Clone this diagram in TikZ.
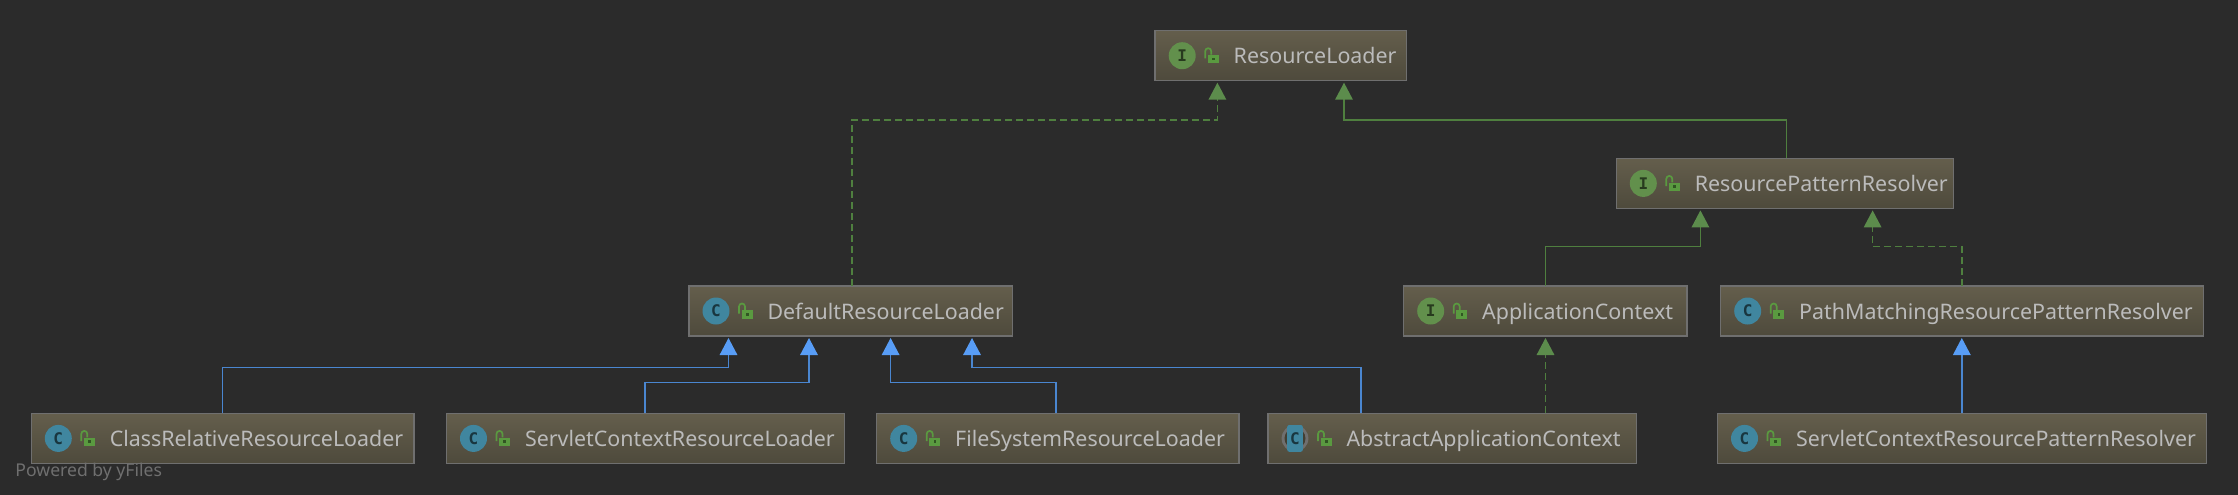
\documentclass[tikz,border=0pt]{standalone}
\usepackage{fontspec}
\setmainfont{Noto Sans}
\newfontfamily\iconfont{DejaVu Sans Mono Bold}
\usetikzlibrary{arrows.meta}
\definecolor{bgc}{HTML}{2B2B2B}
\definecolor{boxtop}{HTML}{645E4C}
\definecolor{boxbot}{HTML}{4E4A3C}
\definecolor{boxline}{HTML}{6F6F6F}
\definecolor{txt}{HTML}{BBBBBB}
\definecolor{grnline}{HTML}{4F7F3F}
\definecolor{grnfill}{HTML}{5C8C4C}
\definecolor{bluline}{HTML}{4A86D0}
\definecolor{blufill}{HTML}{589DF6}
\definecolor{tealc}{HTML}{40869F}
\definecolor{greenc}{HTML}{62904C}
\definecolor{lockc}{HTML}{5A9A40}
\tikzset{
  umlbox/.style={draw=boxline,line width=1.5pt,top color=boxtop,bottom color=boxbot,
    minimum height=50pt,inner sep=0pt,outer sep=0pt,anchor=north west},
  umltext/.style={text=txt,font=\fontsize{21.4}{21.4}\selectfont,inner sep=0pt,outer sep=0pt,anchor=base west},
  iconbase/.style={circle,minimum size=27pt,inner sep=0pt,outer sep=0pt,
    font=\iconfont\fontsize{16}{16}\selectfont},
  iconC/.style={iconbase,fill=tealc,text=black!60!tealc},
  iconI/.style={iconbase,fill=greenc,text=black!60!greenc},
  inhg/.style={draw=grnline,line width=1.5pt,-{Triangle[length=17pt,width=17.5pt,color=grnfill,fill=grnfill]}},
  impg/.style={inhg,dashed,dash pattern=on 7pt off 4pt},
  inhb/.style={draw=bluline,line width=1.5pt,-{Triangle[length=17pt,width=17.5pt,color=blufill,fill=blufill]}},
}
% name, x, y, width, icon style, letter, text
\newcommand{\umlnode}[7]{%
  \node[umlbox,minimum width=#4pt] (#1) at (#2,#3) {};
  \node[#5] (#1-icon) at ([xshift=27pt]#1.west) {#6};
  \umllock{#1}
  \node[umltext] (#1-text) at ([xshift=78.5pt,yshift=-8pt]#1.west) {#7};
}
\newcommand{\umllock}[1]{%
  \begin{scope}[shift={(#1.west)}]
    \draw[lockc,line width=1.7pt] (50,2.7) -- (50,-4.5) arc[start angle=180,end angle=0,radius=3pt] -- (56,-1);
    \fill[lockc] (52.7,-0.6) rectangle (63.7,7.6);
    \fill[black!45!lockc] (56.8,2) rectangle (59.6,4.8);
  \end{scope}
}
\begin{document}
\begin{tikzpicture}[x=1pt,y=-1pt]
\useasboundingbox[fill=bgc] (0,0) rectangle (2238,495);

\umlnode{rl}{1155.2}{30.7}{251.5}{iconI}{I}{ResourceLoader}
\umlnode{rpr}{1616.3}{158.4}{337}{iconI}{I}{ResourcePatternResolver}
\umlnode{def}{689}{286}{323.5}{iconC}{C}{DefaultResourceLoader}
\umlnode{ac}{1403.7}{286}{283.5}{iconI}{I}{ApplicationContext}
\umlnode{pm}{1720.7}{286}{483}{iconC}{C}{PathMatchingResourcePatternResolver}
\umlnode{crl}{31.3}{413.4}{382.5}{iconC}{C}{ClassRelativeResourceLoader}
\umlnode{scl}{446.5}{413.4}{398}{iconC}{C}{ServletContextResourceLoader}
\umlnode{fsl}{876.7}{413.4}{362.5}{iconC}{C}{FileSystemResourceLoader}
% abstract class
\node[umlbox,minimum width=368.5pt] (aac) at (1268,413.4) {};
\fill[boxline] ([xshift=27pt]aac.west) circle[radius=13.4pt];
\fill[black!15!boxbot] ([xshift=27pt]aac.west) circle[radius=10.5pt];
\node[fill=tealc,rounded corners=2pt,minimum width=15.6pt,minimum height=26.7pt,inner sep=0pt,
  text=black!60!tealc,font=\iconfont\fontsize{16}{16}\selectfont] (aac-icon) at ([xshift=27pt]aac.west) {C};
\umllock{aac}
\node[umltext] (aac-text) at ([xshift=78.5pt,yshift=-8pt]aac.west) {AbstractApplicationContext};
\umlnode{scr}{1717.5}{413.4}{489}{iconC}{C}{ServletContextResourcePatternResolver}

\node[text=boxline,font=\fontsize{17.6}{17.6}\selectfont,inner sep=0pt,anchor=base west] (yf) at (15.3,476.5) {Powered by yFiles};

% green connectors
\draw[impg] ([xshift=163pt]def.north west) |- ([xshift=62.2pt,yshift=-39.3pt]rl.south west) -- ([xshift=62.2pt,yshift=-2pt]rl.south west);
\draw[inhg] ([xshift=170.3pt]rpr.north west) |- ([xshift=188.8pt,yshift=-39.3pt]rl.south west) -- ([xshift=188.8pt,yshift=-2pt]rl.south west);
\draw[inhg] ([xshift=141.8pt]ac.north west) |- ([xshift=84.1pt,yshift=-38.3pt]rpr.south west) -- ([xshift=84.1pt,yshift=-2pt]rpr.south west);
\draw[impg] ([xshift=241.1pt]pm.north west) |- ([xshift=256.3pt,yshift=-38.3pt]rpr.south west) -- ([xshift=256.3pt,yshift=-2pt]rpr.south west);
\draw[impg] ([xshift=277.5pt]aac.north west) -- ([xshift=141.8pt,yshift=-2pt]ac.south west);
% blue connectors
\draw[inhb] ([xshift=191.1pt]crl.north west) |- ([xshift=39.5pt,yshift=-31.3pt]def.south west) -- ([xshift=39.5pt,yshift=-2pt]def.south west);
\draw[inhb] ([xshift=198.7pt]scl.north west) |- ([xshift=120pt,yshift=-46.3pt]def.south west) -- ([xshift=120pt,yshift=-2pt]def.south west);
\draw[inhb] ([xshift=179.3pt]fsl.north west) |- ([xshift=201.6pt,yshift=-46.3pt]def.south west) -- ([xshift=201.6pt,yshift=-2pt]def.south west);
\draw[inhb] ([xshift=93pt]aac.north west) |- ([xshift=283pt,yshift=-31.3pt]def.south west) -- ([xshift=283pt,yshift=-2pt]def.south west);
\draw[inhb] ([xshift=244.3pt]scr.north west) -- ([xshift=241.1pt,yshift=-2pt]pm.south west);
\end{tikzpicture}
\end{document}
